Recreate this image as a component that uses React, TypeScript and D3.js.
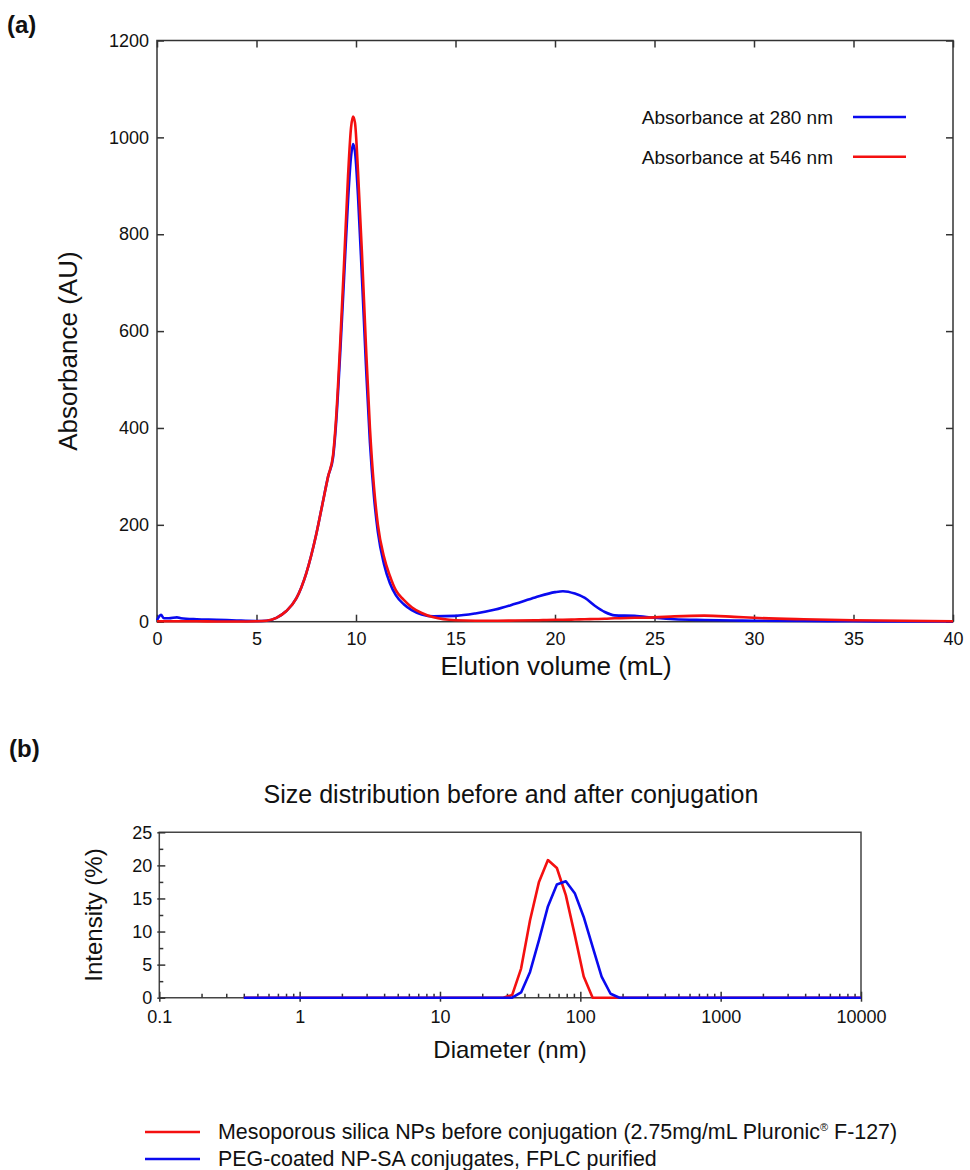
import React, { useEffect, useRef } from "react";
import * as d3 from "d3";

// (a) elution profile, shared volume grid (mL)
const volumeMl = [0, 0.2, 0.35, 0.6, 1.0, 1.2, 2, 3, 4, 5, 5.5, 6, 6.5, 7, 7.5, 8, 8.3, 8.6, 8.85, 9.0, 9.2, 9.4, 9.6, 9.75, 9.85, 9.95, 10.1, 10.3, 10.5, 10.7, 10.9, 11.1, 11.4, 11.7, 12.0, 12.4, 12.8, 13.3, 13.9, 15, 16, 17, 18, 19, 20, 20.4, 21, 21.5, 22, 22.5, 23, 24, 25, 26, 27.5, 29, 30, 32.5, 35, 37.5, 40];
const abs280 = [3, 14, 7, 7, 9, 7, 5, 4, 2.5, 1.5, 2, 8, 22, 48, 100, 180, 240, 300, 340, 410, 550, 710, 870, 960, 986, 970, 880, 710, 530, 370, 260, 185, 120, 80, 55, 36, 24, 15, 11, 12, 17, 25, 37, 50, 61, 63, 58, 49, 33, 20, 13, 12, 8, 5, 3.5, 2.5, 2, 1.5, 1, 0.5, 0.5];
const abs546 = [1, 1, 1, 1, 1, 1, 1, 0.5, 0.5, 1, 2, 8, 22, 48, 100, 180, 240, 300, 345, 420, 570, 740, 920, 1020, 1043, 1030, 930, 760, 570, 400, 280, 200, 135, 95, 65, 45, 30, 18, 9, 3, 2, 2, 2.5, 3, 4, 4, 4.5, 5, 5.5, 6, 7, 8, 9, 11, 12.5, 10, 8, 5, 3, 2, 1];
const volumeTicks = [0, 5, 10, 15, 20, 25, 30, 35, 40];
const absTicks = [0, 200, 400, 600, 800, 1000, 1200];

// (b) DLS size distribution
const diameterNm = [0.4, 28.21, 32.67, 37.84, 43.82, 50.75, 58.77, 68.06, 78.82, 91.28, 105.7, 122.4, 141.8, 164.2, 190.1, 220.2, 10000];
const intensityBefore = [0, 0, 0.4, 4.4, 11.7, 17.5, 20.8, 19.6, 15.5, 9.5, 3.2, 0, 0, 0, 0, 0, 0];
const intensityAfter = [0, 0, 0, 0.8, 3.9, 8.7, 13.8, 17.1, 17.6, 15.8, 12.2, 7.7, 3.2, 0.6, 0, 0, 0];
const diameterTicks = [0.1, 1, 10, 100, 1000, 10000];
const intensityTicks = [0, 5, 10, 15, 20, 25];

const FONT = "'Liberation Sans', Arial, Helvetica, sans-serif";
const BLUE = "#0a0aef";
const RED = "#f41010";
const AXIS = "#333";

export default function App() {
  const ref = useRef<SVGSVGElement>(null);

  useEffect(() => {
    const svg = d3.select(ref.current);
    svg.selectAll("*").remove();

    // ---------- panel (a) ----------
    const x = d3.scaleLinear().domain([0, 40]).range([157, 953]);
    const y = d3.scaleLinear().domain([0, 1200]).range([621.7, 40.5]);

    const styleAxis = (g: any, size: number) => {
      g.select(".domain").remove();
      g.selectAll(".tick line").attr("stroke", AXIS).attr("stroke-width", 1.5);
      g.selectAll(".tick text").attr("fill", "#111").style("font-size", size + "px").style("font-family", FONT);
    };

    const ga = svg.append("g");
    ga.append("rect")
      .attr("x", x(0)).attr("y", y(1200))
      .attr("width", x(40) - x(0)).attr("height", y(0) - y(1200))
      .attr("fill", "none").attr("stroke", AXIS).attr("stroke-width", 1.5);

    ga.append("g").attr("transform", `translate(0,${y(0)})`)
      .call(d3.axisBottom(x).tickValues(volumeTicks).tickSize(-7).tickPadding(11).tickFormat(d3.format("d")))
      .call((g: any) => styleAxis(g, 18));
    ga.append("g").attr("transform", `translate(0,${y(1200)})`)
      .call(d3.axisTop(x).tickValues(volumeTicks).tickSize(-7).tickFormat(() => ""))
      .call((g: any) => styleAxis(g, 18));
    ga.append("g").attr("transform", `translate(${x(0)},0)`)
      .call(d3.axisLeft(y).tickValues(absTicks).tickSize(-7).tickPadding(8).tickFormat(d3.format("d")))
      .call((g: any) => styleAxis(g, 18));
    ga.append("g").attr("transform", `translate(${x(40)},0)`)
      .call(d3.axisRight(y).tickValues(absTicks).tickSize(-7).tickFormat(() => ""))
      .call((g: any) => styleAxis(g, 18));

    const lineA = d3.line<number>()
      .x((_, i) => x(volumeMl[i]))
      .y((d) => y(d))
      .curve(d3.curveMonotoneX);

    ga.append("path").attr("d", lineA(abs280)).attr("fill", "none").attr("stroke", BLUE).attr("stroke-width", 2.6);
    ga.append("path").attr("d", lineA(abs546)).attr("fill", "none").attr("stroke", RED).attr("stroke-width", 2.6);

    // legend (a)
    const legA = [
      { label: "Absorbance at 280 nm", color: BLUE, y: 117 },
      { label: "Absorbance at 546 nm", color: RED, y: 156.7 },
    ];
    legA.forEach((l) => {
      ga.append("text").attr("x", 833).attr("y", l.y + 7).attr("text-anchor", "end")
        .style("font-family", FONT).style("font-size", "19px").attr("fill", "#111").text(l.label);
      ga.append("line").attr("x1", 853).attr("x2", 906).attr("y1", l.y).attr("y2", l.y)
        .attr("stroke", l.color).attr("stroke-width", 2.6);
    });

    ga.append("text").attr("x", 556).attr("y", 675).attr("text-anchor", "middle")
      .style("font-family", FONT).style("font-size", "26px").attr("fill", "#111").text("Elution volume (mL)");
    ga.append("text").attr("transform", `translate(77,${(y(0) + y(1200)) / 2 + 20}) rotate(-90)`).attr("text-anchor", "middle")
      .style("font-family", FONT).style("font-size", "26px").attr("fill", "#111").text("Absorbance (AU)");
    ga.append("text").attr("x", 7).attr("y", 33)
      .style("font-family", FONT).style("font-size", "24px").style("font-weight", "bold").attr("fill", "#111").text("(a)");

    // ---------- panel (b) ----------
    const xb = d3.scaleLog().domain([0.1, 10000]).range([159.3, 861]);
    const yb = d3.scaleLinear().domain([0, 25]).range([997.7, 832.3]);

    const gb = svg.append("g");
    gb.append("path")
      .attr("d", `M${xb(0.1)},${yb(0)}V${yb(25)}H${xb(10000)}V${yb(0)}Z`)
      .attr("fill", "none").attr("stroke", "#444").attr("stroke-width", 1.5);

    const minorTicks = diameterTicks.slice(0, -1).flatMap((d) => [2, 3, 4, 5, 6, 7, 8, 9].map((m) => +(d * m).toPrecision(3)));
    gb.append("g").attr("transform", `translate(0,${yb(0)})`)
      .call(d3.axisBottom(xb).tickValues(minorTicks).tickSize(-4).tickFormat(() => ""))
      .call((g: any) => styleAxis(g, 18));
    gb.append("g").attr("transform", `translate(0,${yb(0)})`)
      .call(d3.axisBottom(xb).tickValues(diameterTicks).tickSize(4).tickPadding(9).tickFormat(d3.format("")))
      .call((g: any) => {
        styleAxis(g, 18);
        g.selectAll(".tick line").attr("y1", -6).attr("y2", 4);
      });

    const minorY = [2.5, 7.5, 12.5, 17.5, 22.5];
    gb.append("g").attr("transform", `translate(${xb(0.1)},0)`)
      .call(d3.axisLeft(yb).tickValues(minorY).tickSize(-4).tickFormat(() => ""))
      .call((g: any) => styleAxis(g, 18));
    gb.append("g").attr("transform", `translate(${xb(0.1)},0)`)
      .call(d3.axisLeft(yb).tickValues(intensityTicks).tickSize(2).tickPadding(5).tickFormat(d3.format("d")))
      .call((g: any) => {
        styleAxis(g, 18);
        g.selectAll(".tick line").attr("x1", -2).attr("x2", 6);
      });

    const lineB = (vals: number[]) => d3.line<number>()
      .x((_, i) => xb(diameterNm[i]))
      .y((d) => yb(d))(vals);

    gb.append("path").attr("d", lineB(intensityBefore)).attr("fill", "none").attr("stroke", RED).attr("stroke-width", 2.6).attr("stroke-linejoin", "round");
    gb.append("path").attr("d", lineB(intensityAfter)).attr("fill", "none").attr("stroke", BLUE).attr("stroke-width", 2.6).attr("stroke-linejoin", "round");

    gb.append("text").attr("x", 511).attr("y", 803).attr("text-anchor", "middle")
      .style("font-family", FONT).style("font-size", "25px").attr("fill", "#111").text("Size distribution before and after conjugation");
    gb.append("text").attr("x", 510).attr("y", 1058).attr("text-anchor", "middle")
      .style("font-family", FONT).style("font-size", "24px").attr("fill", "#111").text("Diameter (nm)");
    gb.append("text").attr("transform", `translate(102,${(yb(0) + yb(25)) / 2}) rotate(-90)`).attr("text-anchor", "middle")
      .style("font-family", FONT).style("font-size", "24px").attr("fill", "#111").text("Intensity (%)");
    gb.append("text").attr("x", 9).attr("y", 757)
      .style("font-family", FONT).style("font-size", "24px").style("font-weight", "bold").attr("fill", "#111").text("(b)");

    // legend (b)
    const legB = [
      { color: RED, y: 1132 },
      { color: BLUE, y: 1159 },
    ];
    legB.forEach((l) => {
      gb.append("line").attr("x1", 145).attr("x2", 200).attr("y1", l.y).attr("y2", l.y)
        .attr("stroke", l.color).attr("stroke-width", 2.6);
    });
    const t1 = gb.append("text").attr("x", 218).attr("y", 1139)
      .style("font-family", FONT).style("font-size", "21.4px").attr("fill", "#111");
    t1.append("tspan").text("Mesoporous silica NPs before conjugation (2.75mg/mL Pluronic");
    t1.append("tspan").attr("dy", -8).style("font-size", "11px").text("®");
    t1.append("tspan").attr("dy", 8).text(" F-127)");
    gb.append("text").attr("x", 218).attr("y", 1166)
      .style("font-family", FONT).style("font-size", "21.4px").attr("fill", "#111")
      .text("PEG-coated NP-SA conjugates, FPLC purified");
  }, []);

  return (
    <svg ref={ref} width={970} height={1170} style={{ position: "absolute", left: 0, top: 0, background: "#fff" }} />
  );
}
